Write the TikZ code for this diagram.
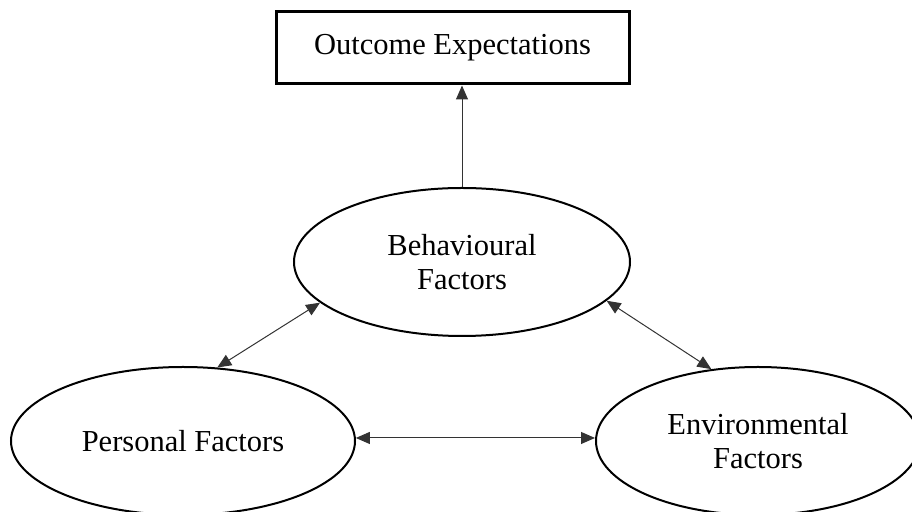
\documentclass[tikz,border=0pt]{standalone}
\usepackage{fontspec}
\setmainfont{Liberation Serif}
\usetikzlibrary{shapes.geometric,arrows.meta}
\begin{document}
\begin{tikzpicture}[x=0.5pt,y=-0.5pt,
  every node/.style={font=\fontsize{15.25pt}{17pt}\selectfont, align=center, inner sep=0pt},
  oval/.style={ellipse, draw=black, line width=1pt, minimum height=74pt},
  boxnode/.style={rectangle, draw=black, line width=1.5pt, minimum width=176.5pt, minimum height=36pt},
  link/.style={draw=black!80, line width=0.5pt, -{Triangle[length=7pt,width=6pt]}},
  dlink/.style={draw=black!80, line width=0.5pt, {Triangle[length=7pt,width=6pt]}-{Triangle[length=7pt,width=6pt]}}]
\useasboundingbox (0,0) rectangle (912,512);
\node[boxnode] (oe) at (452.5,48) {Outcome Expectations};
\node[oval, minimum width=168pt] (bf) at (462,262) {Behavioural\\Factors};
\node[oval, minimum width=172pt] (pf) at (183,441) {Personal Factors};
\node[oval, minimum width=162pt] (ef) at (758,441) {Environmental\\Factors};
\draw[link] (bf.north) -- (bf.north |- oe.south);
\draw[dlink] (pf.65) -- (bf.196);
\draw[dlink] (bf.345) -- (ef.123);
\draw[dlink] (pf.1.7) -- (pf.1.7 -| ef.west);
\end{tikzpicture}
\end{document}
